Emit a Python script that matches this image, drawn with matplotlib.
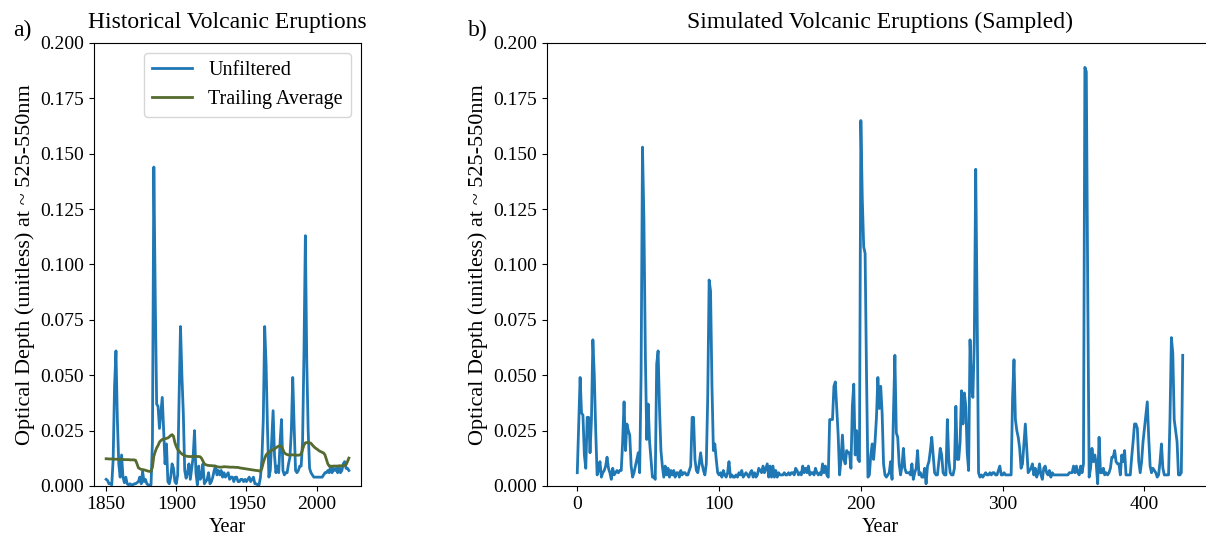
import numpy as np
import matplotlib
matplotlib.use("Agg")
import matplotlib.pyplot as plt

plt.rcParams['font.family'] = ['Liberation Serif', 'DejaVu Serif']

# Historical record, one value per year
years = np.arange(1850, 2024)

unfiltered = [
    0.003, 0.0025, 0.001, 0.001, 0.0005, 0.012, 0.045, 0.061, 0.030, 0.010,   # 1850
    0.004, 0.014, 0.004, 0.0015, 0.004, 0.001, 0.0005, 0.001, 0.0005, 0.0005,  # 1860
    0.001, 0.001, 0.0015, 0.002, 0.004, 0.001, 0.0065, 0.002, 0.003, 0.001,    # 1870
    0.0005, 0.0005, 0.0005, 0.020, 0.144, 0.085, 0.037, 0.036, 0.026, 0.033,   # 1880
    0.040, 0.025, 0.010, 0.019, 0.002, 0.001, 0.004, 0.010, 0.008, 0.002,      # 1890
    0.001, 0.005, 0.040, 0.072, 0.050, 0.033, 0.007, 0.0035, 0.006, 0.010,     # 1900
    0.003, 0.008, 0.013, 0.025, 0.006, 0.0005, 0.009, 0.003, 0.004, 0.010,     # 1910
    0.001, 0.002, 0.003, 0.006, 0.001, 0.002, 0.004, 0.007, 0.009, 0.005,      # 1920
    0.007, 0.005, 0.007, 0.004, 0.006, 0.004, 0.005, 0.006, 0.003, 0.004,      # 1930
    0.004, 0.002, 0.004, 0.004, 0.002, 0.002, 0.003, 0.003, 0.002, 0.003,      # 1940
    0.002, 0.003, 0.004, 0.002, 0.003, 0.004, 0.001, 0.001, 0.0005, 0.0005,    # 1950
    0.004, 0.012, 0.030, 0.072, 0.055, 0.026, 0.004, 0.007, 0.020, 0.034,      # 1960
    0.014, 0.006, 0.009, 0.006, 0.020, 0.030, 0.007, 0.005, 0.006, 0.006,      # 1970
    0.010, 0.013, 0.025, 0.049, 0.027, 0.007, 0.006, 0.007, 0.009, 0.009,      # 1980
    0.020, 0.060, 0.113, 0.056, 0.025, 0.008, 0.006, 0.005, 0.004, 0.004,      # 1990
    0.004, 0.004, 0.004, 0.004, 0.004, 0.005, 0.006, 0.006, 0.007, 0.006,      # 2000
    0.009, 0.006, 0.008, 0.007, 0.008, 0.006, 0.009, 0.006, 0.007, 0.010,      # 2010
    0.011, 0.008, 0.008, 0.007,                                                # 2020
]

trailing = [
    0.0123, 0.0123, 0.0122, 0.0122, 0.0122, 0.0121, 0.0121, 0.0121, 0.0121, 0.0120,
    0.0120, 0.0120, 0.0120, 0.0119, 0.0119, 0.0119, 0.0119, 0.0118, 0.0118, 0.0118,
    0.0118, 0.0116, 0.0100, 0.0082, 0.0078, 0.0075, 0.0074, 0.0073, 0.0071, 0.0069,
    0.0067, 0.0066, 0.0066, 0.0085, 0.0135, 0.0155, 0.0172, 0.0183, 0.0198, 0.0205,
    0.0210, 0.0212, 0.0213, 0.0215, 0.0217, 0.0222, 0.0228, 0.0232, 0.0225, 0.0196,
    0.0178, 0.0165, 0.0158, 0.0150, 0.0145, 0.0140, 0.0137, 0.0135, 0.0134, 0.0133,
    0.0133, 0.0133, 0.0133, 0.0134, 0.0134, 0.0133, 0.0133, 0.0132, 0.0125, 0.0112,
    0.0100, 0.0096, 0.0094, 0.0093, 0.0092, 0.0092, 0.0091, 0.0091, 0.0089, 0.0087,
    0.0086, 0.0085, 0.0085, 0.0086, 0.0087, 0.0087, 0.0086, 0.0086, 0.0085, 0.0085,
    0.0085, 0.0085, 0.0084, 0.0084, 0.0084, 0.0082, 0.0081, 0.0080, 0.0079, 0.0078,
    0.0077, 0.0076, 0.0075, 0.0074, 0.0073, 0.0072, 0.0071, 0.0070, 0.0070, 0.0068,
    0.0066, 0.0080, 0.0105, 0.0125, 0.0140, 0.0147, 0.0152, 0.0158, 0.0161, 0.0164,
    0.0168, 0.0172, 0.0177, 0.0180, 0.0180, 0.0178, 0.0165, 0.0150, 0.0145, 0.0142,
    0.0140, 0.0140, 0.0140, 0.0141, 0.0140, 0.0140, 0.0139, 0.0139, 0.0140, 0.0145,
    0.0165, 0.0185, 0.0195, 0.0196, 0.0196, 0.0195, 0.0193, 0.0185, 0.0178, 0.0172,
    0.0168, 0.0163, 0.0158, 0.0155, 0.0152, 0.0149, 0.0140, 0.0120, 0.0100, 0.0090,
    0.0089, 0.0089, 0.0090, 0.0090, 0.0090, 0.0090, 0.0091, 0.0091, 0.0091, 0.0092,
    0.0093, 0.0096, 0.0110, 0.0126,
]

# Sampled simulation, one value per simulated year
simulated = [
    0.006, 0.027, 0.049, 0.033, 0.032, 0.014, 0.008, 0.031, 0.031, 0.015,
    0.030, 0.066, 0.050, 0.025, 0.005, 0.007, 0.011, 0.004, 0.006, 0.007,
    0.009, 0.013, 0.008, 0.006, 0.003, 0.008, 0.005, 0.006, 0.007, 0.006,
    0.007, 0.007, 0.020, 0.038, 0.016, 0.028, 0.025, 0.023, 0.009, 0.004,
    0.006, 0.009, 0.012, 0.015, 0.006, 0.050, 0.153, 0.120, 0.060, 0.021,
    0.037, 0.020, 0.012, 0.004, 0.004, 0.003, 0.055, 0.061, 0.035, 0.016,
    0.009, 0.004, 0.009, 0.005, 0.008, 0.004, 0.007, 0.005, 0.007, 0.004,
    0.006, 0.006, 0.004, 0.007, 0.005, 0.006, 0.006, 0.005, 0.005, 0.007,
    0.009, 0.031, 0.031, 0.012, 0.007, 0.006, 0.010, 0.015, 0.010, 0.007,
    0.005, 0.010, 0.040, 0.093, 0.088, 0.045, 0.016, 0.019, 0.012, 0.006,
    0.005, 0.006, 0.004, 0.007, 0.005, 0.004, 0.006, 0.011, 0.004, 0.005,
    0.004, 0.004, 0.005, 0.004, 0.006, 0.005, 0.007, 0.004, 0.005, 0.006,
    0.005, 0.004, 0.006, 0.007, 0.004, 0.006, 0.004, 0.005, 0.008, 0.007,
    0.006, 0.009, 0.006, 0.008, 0.010, 0.004, 0.009, 0.004, 0.009, 0.004,
    0.007, 0.004, 0.006, 0.005, 0.005, 0.005, 0.006, 0.005, 0.005, 0.006,
    0.005, 0.006, 0.006, 0.005, 0.008, 0.007, 0.005, 0.006, 0.005, 0.009,
    0.006, 0.008, 0.006, 0.009, 0.005, 0.006, 0.006, 0.005, 0.008, 0.006,
    0.005, 0.006, 0.005, 0.010, 0.006, 0.009, 0.005, 0.004, 0.030, 0.030,
    0.030, 0.045, 0.047, 0.035, 0.023, 0.005, 0.012, 0.023, 0.012, 0.010,
    0.016, 0.015, 0.015, 0.008, 0.036, 0.046, 0.014, 0.025, 0.012, 0.011,
    0.165, 0.130, 0.108, 0.105, 0.050, 0.004, 0.005, 0.014, 0.019, 0.012,
    0.020, 0.031, 0.049, 0.035, 0.045, 0.033, 0.010, 0.005, 0.004, 0.005,
    0.006, 0.011, 0.003, 0.033, 0.059, 0.024, 0.022, 0.010, 0.005, 0.009,
    0.017, 0.008, 0.006, 0.006, 0.006, 0.005, 0.010, 0.003, 0.006, 0.008,
    0.016, 0.005, 0.006, 0.004, 0.004, 0.008, 0.001, 0.009, 0.011, 0.016,
    0.022, 0.014, 0.006, 0.005, 0.005, 0.011, 0.017, 0.014, 0.006, 0.005,
    0.005, 0.030, 0.012, 0.006, 0.005, 0.005, 0.008, 0.036, 0.012, 0.012,
    0.020, 0.043, 0.028, 0.042, 0.036, 0.015, 0.007, 0.066, 0.045, 0.040,
    0.065, 0.143, 0.080, 0.006, 0.004, 0.005, 0.004, 0.005, 0.006, 0.005,
    0.005, 0.006, 0.005, 0.006, 0.006, 0.005, 0.005, 0.007, 0.009, 0.005,
    0.005, 0.006, 0.005, 0.005, 0.005, 0.005, 0.005, 0.040, 0.057, 0.030,
    0.025, 0.022, 0.017, 0.008, 0.010, 0.019, 0.028, 0.017, 0.006, 0.007,
    0.008, 0.010, 0.005, 0.008, 0.004, 0.006, 0.010, 0.005, 0.003, 0.008,
    0.009, 0.006, 0.005, 0.007, 0.004, 0.006, 0.005, 0.005, 0.005, 0.005,
    0.005, 0.005, 0.005, 0.005, 0.005, 0.005, 0.005, 0.006, 0.006, 0.006,
    0.009, 0.006, 0.009, 0.006, 0.005, 0.009, 0.006, 0.010, 0.189, 0.187,
    0.090, 0.004, 0.008, 0.017, 0.011, 0.014, 0.010, 0.001, 0.022, 0.006,
    0.006, 0.008, 0.005, 0.006, 0.005, 0.006, 0.008, 0.013, 0.013, 0.016,
    0.011, 0.010, 0.010, 0.005, 0.014, 0.011, 0.016, 0.005, 0.005, 0.005,
    0.005, 0.013, 0.020, 0.028, 0.028, 0.026, 0.011, 0.006, 0.011, 0.020,
    0.026, 0.032, 0.038, 0.022, 0.009, 0.006, 0.008, 0.007, 0.006, 0.004,
    0.005, 0.011, 0.019, 0.008, 0.005, 0.005, 0.005, 0.005, 0.030, 0.067,
    0.060, 0.030, 0.025, 0.020, 0.005, 0.005, 0.006, 0.059,
]
sim_years = np.arange(len(simulated))

ylabel = "Optical Depth (unitless) at ~ 525-550nm"

fig = plt.figure(figsize=(12.06, 5.42), dpi=100)
ax1 = fig.add_axes([94/1206, 56/542, 267/1206, 443/542])
# right panel runs slightly past the figure edge, as in the original crop
ax2 = fig.add_axes([547/1206, 56/542, 666/1206, 443/542])

ax1.plot(years, unfiltered, color='#1f77b4', lw=2, label='Unfiltered')
ax1.plot(years, trailing, color='darkolivegreen', lw=2, label='Trailing Average')
ax1.set_ylim(0, 0.2)
ax1.set_xticks([1850, 1900, 1950, 2000])
ax1.set_title("Historical Volcanic Eruptions", fontsize=17, pad=11)
ax1.set_xlabel("Year", fontsize=14.5)
ax1.set_ylabel(ylabel, fontsize=16)
ax1.legend(loc='upper right', fontsize=14.5)

ax2.plot(sim_years, simulated, color='#1f77b4', lw=2)
ax2.set_ylim(0, 0.2)
ax2.set_xticks([0, 100, 200, 300, 400])
ax2.set_title("Simulated Volcanic Eruptions (Sampled)", fontsize=17, pad=11)
ax2.set_xlabel("Year", fontsize=14.5)
ax2.set_ylabel(ylabel, fontsize=16)

for ax in (ax1, ax2):
    ax.set_yticks(np.arange(0, 0.201, 0.025))
    ax.yaxis.set_major_formatter(matplotlib.ticker.FormatStrFormatter('%.3f'))
    ax.tick_params(labelsize=14)

fig.text(13/1206, 1 - 30/542, "a)", fontsize=17, va='center')
fig.text(468/1206, 1 - 30/542, "b)", fontsize=17, va='center')

fig.savefig("out.png", dpi=100)
